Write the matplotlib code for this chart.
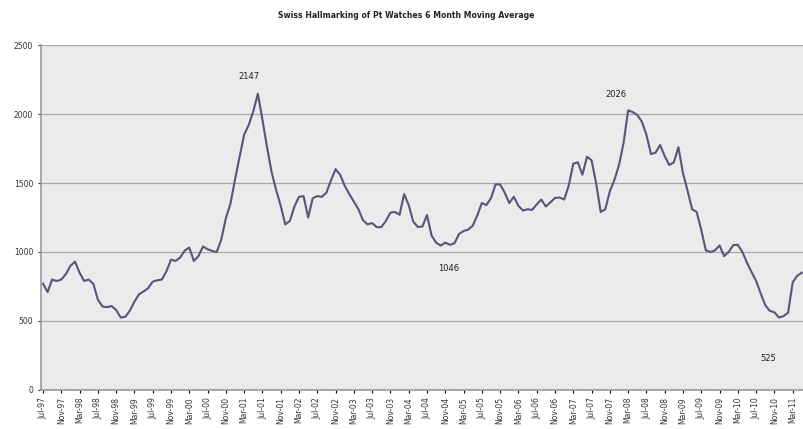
import matplotlib
matplotlib.use("Agg")
import matplotlib.pyplot as plt
import numpy as np

title = "Swiss Hallmarking of Pt Watches 6 Month Moving Average"

# monthly 6-month moving average, Jul 1997 .. May 2011
values = [
    770, 710, 800, 790, 800, 840, 900, 930, 850, 790, 800, 770,
    655, 605, 600, 608, 580, 525, 530, 575, 640, 693, 714, 738,
    785, 795, 800, 860, 945, 935, 960, 1010, 1032, 935, 970, 1040,
    1020, 1008, 1000, 1090, 1245, 1350, 1525, 1690, 1850, 1920, 2020, 2147,
    1960, 1761, 1580, 1450, 1335, 1200, 1225, 1330, 1400, 1405, 1250, 1390,
    1405, 1400, 1430, 1520, 1600, 1560, 1480, 1420, 1365, 1310, 1230, 1200,
    1210, 1180, 1180, 1225, 1285, 1290, 1270, 1420, 1340, 1220, 1181, 1185,
    1268, 1120, 1068, 1046, 1068, 1052, 1063, 1130, 1152, 1162, 1190, 1265,
    1355, 1340, 1390, 1490, 1490, 1430, 1355, 1400, 1335, 1300, 1310, 1305,
    1345, 1380, 1330, 1360, 1392, 1395, 1380, 1480, 1640, 1650, 1560, 1690,
    1665, 1500, 1290, 1310, 1440, 1522, 1630, 1790, 2026, 2015, 1993, 1945,
    1850, 1710, 1720, 1775, 1695, 1630, 1650, 1760, 1572, 1445, 1310, 1290,
    1160, 1012, 1000, 1012, 1048, 970, 1000, 1050, 1052, 1000, 922, 855,
    790, 700, 615, 573, 563, 525, 535, 560, 780, 828, 850,
]

# tick labels every 4 months
tick_labels = [
    "Jul-97", "Nov-97", "Mar-98", "Jul-98", "Nov-98", "Mar-99", "Jul-99",
    "Nov-99", "Mar-00", "Jul-00", "Nov-00", "Mar-01", "Jul-01", "Nov-01",
    "Mar-02", "Jul-02", "Nov-02", "Mar-03", "Jul-03", "Nov-03", "Mar-04",
    "Jul-04", "Nov-04", "Mar-05", "Jul-05", "Nov-05", "Mar-06", "Jul-06",
    "Nov-06", "Mar-07", "Jul-07", "Nov-07", "Mar-08", "Jul-08", "Nov-08",
    "Mar-09", "Jul-09", "Nov-09", "Mar-10", "Jul-10", "Nov-10", "Mar-11",
]

# annotated points: month index
annot_idx = [47, 87, 128, 161]
annot_offsets = [(-6.5, 9), (6, -13), (-9, 8.5), (-8, -26)]

fig = plt.figure(figsize=(8.04, 4.29), dpi=100)
ax = fig.add_axes([0.051, 0.091, 0.948, 0.804])
ax.set_facecolor("#ebebeb")

x = np.arange(len(values))
ax.plot(x, values, color="#56567a", lw=1.5, solid_joinstyle="round")

ax.set_ylim(0, 2500)
ax.set_yticks([0, 500, 1000, 1500, 2000, 2500])
ax.yaxis.grid(True, color="#a8a8a8", lw=0.9)
ax.set_axisbelow(True)

ax.set_xlim(-0.44, 166.3)
ticks = np.arange(len(tick_labels)) * 4
ax.set_xticks(ticks)
ax.set_xticklabels(tick_labels, rotation=90, fontsize=5.5, color="#333333")
ax.tick_params(axis="y", labelsize=5.5, colors="#333333", length=2)
ax.tick_params(axis="x", length=2, pad=3)

for s in ["top", "right"]:
    ax.spines[s].set_visible(False)
for s in ["left", "bottom"]:
    ax.spines[s].set_color("#999999")
    ax.spines[s].set_linewidth(1.2)

for i, (dx, dy) in zip(annot_idx, annot_offsets):
    v = values[i]
    ax.annotate(str(v), (i, v), xytext=(dx, dy), textcoords="offset points",
                ha="center", va="bottom" if dy > 0 else "top",
                fontsize=6, color="#222222")

fig.text(0.505, 0.965, title, ha="center", va="center", fontsize=5.6,
         fontweight="bold", color="#222222")

fig.savefig("out.png", dpi=100)
